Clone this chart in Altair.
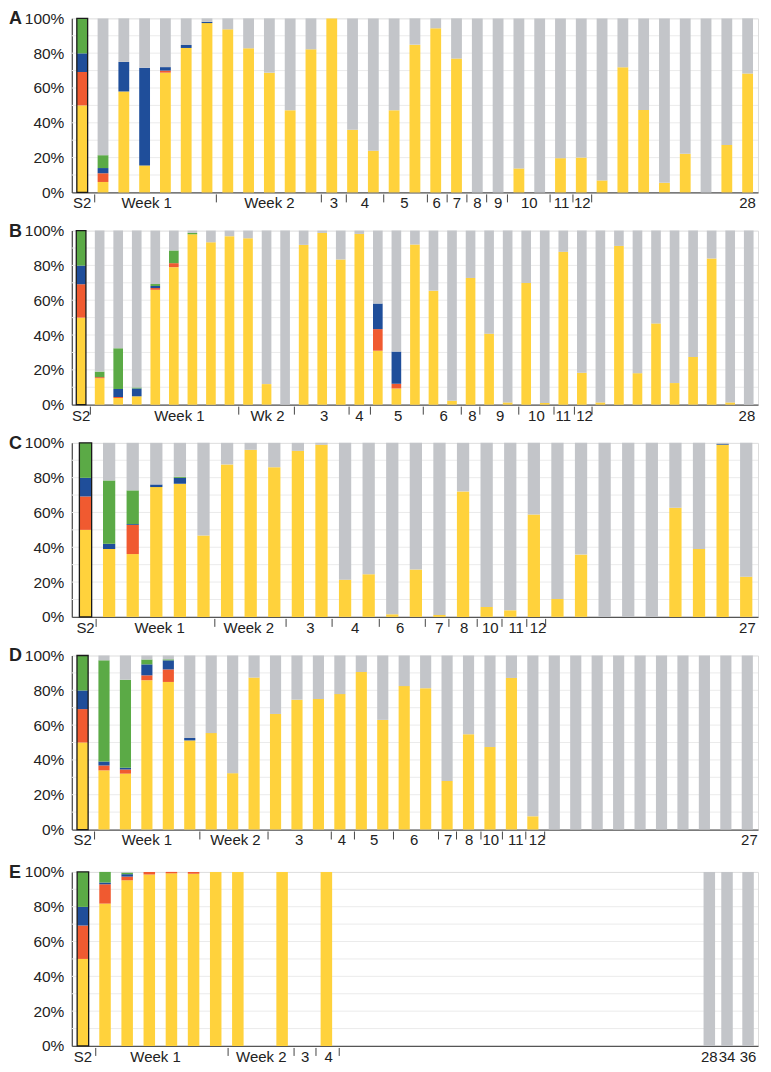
import altair as alt
import pandas as pd

FONT = "Liberation Sans"
CATS = ["yellow", "red", "blue", "green", "gray"]
CAT_COLORS = ["#FFD23C", "#F05A30", "#1F4E9A", "#5BAA46", "#C3C5C9"]

# S2 reference bar (yellow, red, blue, green)
S2 = [50, 19.2, 10.7, 20.1]

Y_TICKS = [0, 20, 40, 60, 80, 100]
GRID = [10, 20, 30, 40, 50, 60, 70, 80, 90]

# ---------------- Panel A ----------------
A_pos = list(range(1, 33))
A_yellow = [6, 58, 15.5, 68.8, 83, 97.3, 93.7, 82.8, 68.8, 47.2, 82.2, 100, 36, 24,
            47.2, 84.9, 94.3, 76.9, 0, 0, 13.8, 0, 19.7, 20, 6.9, 71.9, 47.4, 5.5,
            22.2, 0, 27.3, 68.3]
A_red = [5, 0, 0, 1.2] + [0] * 28
A_blue = [3, 17, 56.2, 2, 1.7, 0.7] + [0] * 26
A_green = [7.4] + [0] * 31
A_labels = ["S2", "Week 1", "Week 2", "3", "4", "5", "6", "7", "8", "9", "10", "11", "12", "28"]
A_label_pos = [0, 3.1, 9.0, 12.1, 13.6, 15.5, 17.05, 18.02, 19.0, 20.0, 21.5, 23.05, 24.05, 32.0]
A_seps = [0.6, 6.45, 11.5, 12.7, 14.5, 16.6, 17.55, 18.5, 19.45, 20.45, 22.5, 23.6, 24.5]

# ---------------- Panel B ----------------
B_pos = list(range(1, 37))
B_yellow = [15.2, 3.8, 4.8, 66, 79, 97.9, 93.3, 96.8, 95.6, 11.8,
            0, 91.8, 98.7, 83.4, 98.1, 31, 9.3, 92, 65.5, 2.3,
            72.8, 40.8, 1.3, 69.9, 1, 87.8, 18.3, 1.3, 91.2, 18.1,
            46.7, 12.4, 27.4, 84, 1.3, 0]
B_red = [0.6, 0.6, 0, 1, 2.3] + [0] * 10 + [12.4, 2.7] + [0] * 19
B_blue = [0, 4.6, 4.5, 1.2, 0] + [0] * 10 + [14.7, 18.5] + [0] * 19
B_green = [3.2, 23.4, 0.6, 1.1, 7.3, 0.8] + [0] * 30
B_labels = ["S2", "Week 1", "Wk 2", "3", "4", "5", "6", "8", "9", "10", "11", "12", "28"]
B_label_pos = [0, 5.3, 10.05, 13.1, 15.0, 17.1, 19.55, 21.1, 22.6, 24.55, 26.0, 27.15, 35.9]
B_seps = [0.5, 8.5, 11.5, 14.45, 15.6, 18.45, 20.5, 21.5, 23.6, 25.5, 26.6, 27.55]

# ---------------- Panel C ----------------
C_pos = list(range(1, 29))
C_yellow = [39, 36.1, 74.6, 76.5, 46.7, 87.6, 96, 86, 95.4, 98.9,
            21.4, 24.5, 1.5, 27.2, 1.1, 72.1, 5.7, 3.8, 58.9, 10.3,
            35.8, 0, 0, 0, 62.7, 39, 98.9, 23.1]
C_red = [0, 16.7] + [0] * 26
C_blue = [3, 0.5, 1.5, 3.4] + [0] * 22 + [0.4, 0]
C_green = [36.4, 19.4, 0, 0.6] + [0] * 24
C_labels = ["S2", "Week 1", "Week 2", "3", "4", "6", "7", "8", "10", "11", "12", "27"]
C_label_pos = [0, 3.14, 6.92, 9.53, 11.43, 13.33, 15.0, 16.05, 17.15, 18.25, 19.18, 28.05]
C_seps = [0.45, 5.48, 8.5, 10.45, 12.45, 14.4, 15.4, 16.6, 17.65, 18.7, 19.5]

# ---------------- Panel D ----------------
D_pos = list(range(1, 32))
D_yellow = [34, 32.1, 85.8, 84.8, 51.2, 55.4, 32.4, 87.3, 66.4, 74.6,
            75, 77.8, 90.5, 63, 82.4, 81.2, 27.9, 54.8, 47.4, 87.1,
            7.6] + [0] * 10
D_red = [2.8, 2.4, 2.8, 7.2] + [0] * 27
D_blue = [2.3, 1, 6.3, 5.2, 1.4] + [0] * 26
D_green = [58.1, 50.6, 2.8, 0.6] + [0] * 27
D_labels = ["S2", "Week 1", "Week 2", "3", "4", "5", "6", "7", "8", "10", "11", "12", "27"]
D_label_pos = [0, 3.0, 7.13, 10.1, 12.1, 13.6, 15.47, 17.05, 18.03, 19.04, 20.2, 21.2, 31.1]
D_seps = [0.56, 5.47, 8.65, 11.6, 12.68, 14.5, 16.6, 17.44, 18.58, 19.58, 20.67, 21.55]

# ---------------- Panel E ----------------
E_pos = [1, 2, 3, 4, 5, 6, 7, 9, 11, 28.3, 29.1, 30.05]
E_yellow = [81.8, 95.2, 98.5, 99.2, 98.9, 100, 100, 100, 100, 0, 0, 0]
E_red = [11.1, 2.1, 1.5, 0.8, 1.1, 0, 0, 0, 0, 0, 0, 0]
E_blue = [1, 1.4, 0, 0, 0, 0, 0, 0, 0, 0, 0, 0]
E_green = [6.1, 0.9, 0, 0, 0, 0, 0, 0, 0, 0, 0, 0]
E_labels = ["S2", "Week 1", "Week 2", "3", "4", "28", "34", "36"]
E_label_pos = [0, 3.28, 8.06, 10.04, 11.1, 28.3, 29.1, 30.05]
E_seps = [0.58, 6.56, 9.54, 10.53, 11.58]

W = 688
H = 174.5
HALF = 0.26


def x_enc(field, domain):
    return alt.X(
        f"{field}:Q",
        scale=alt.Scale(domain=domain, nice=False, zero=False),
        axis=alt.Axis(labels=False, ticks=False, grid=False, domainColor="#555555",
                      domainWidth=1.3, title=None),
    )


def y_enc(field):
    return alt.Y(
        f"{field}:Q",
        scale=alt.Scale(domain=[0, 100], nice=False),
        axis=alt.Axis(values=Y_TICKS, labelExpr="datum.value + '%'", grid=False,
                      ticks=False, domainColor="#555555", domainWidth=1.3,
                      labelFontSize=15.5, labelFont=FONT, labelColor="#222222",
                      labelPadding=8, title=None),
    )


def panel(letter, pos, yellow, red, blue, green, domain, labels, label_pos, seps):
    rows = []
    all_pos = [0] + pos
    cols = [[S2[0]] + yellow, [S2[1]] + red, [S2[2]] + blue, [S2[3]] + green]
    for i, p in enumerate(all_pos):
        vals = [c[i] for c in cols]
        gray = max(0.0, 100 - sum(vals))
        for k, v in enumerate(vals + [gray]):
            if v > 0:
                rows.append({"pos": p, "cat": CATS[k], "value": v, "order": k})
    df = pd.DataFrame(rows)

    grid = (
        alt.Chart(pd.DataFrame({"g": GRID}))
        .mark_rule(color="#ebebeb", strokeWidth=1)
        .encode(y=y_enc("g"))
    )

    bars = (
        alt.Chart(df)
        .transform_stack(stack="value", as_=["y0", "y1"], groupby=["pos"],
                         sort=[alt.SortField("order", order="ascending")])
        .transform_calculate(x0=f"datum.pos - {HALF}", x1=f"datum.pos + {HALF}")
        .mark_bar()
        .encode(
            x=x_enc("x0", domain),
            x2="x1:Q",
            y=y_enc("y0"),
            y2="y1:Q",
            color=alt.Color("cat:N", scale=alt.Scale(domain=CATS, range=CAT_COLORS), legend=None),
        )
    )

    s2 = (
        alt.Chart(pd.DataFrame({"pos": [0], "lo": [0], "hi": [100]}))
        .transform_calculate(x0=f"datum.pos - {HALF}", x1=f"datum.pos + {HALF}")
        .mark_bar(fillOpacity=0, stroke="#1a1a1a", strokeWidth=1.3)
        .encode(x=x_enc("x0", domain), x2="x1:Q", y=y_enc("lo"), y2="hi:Q")
    )

    lab = (
        alt.Chart(pd.DataFrame({"pos": label_pos, "text": labels}))
        .mark_text(font=FONT, fontSize=15, color="#222222", align="center", baseline="middle")
        .encode(x=x_enc("pos", domain), y=alt.value(H + 11), text="text:N")
    )

    sep = (
        alt.Chart(pd.DataFrame({"pos": seps}))
        .mark_rule(color="#444444", strokeWidth=1)
        .encode(x=x_enc("pos", domain), y=alt.value(H + 2), y2=alt.value(H + 10))
    )

    let = (
        alt.Chart(pd.DataFrame({"t": [letter]}))
        .mark_text(font=FONT, fontSize=18, fontWeight="bold", color="#222222",
                   align="left", baseline="middle")
        .encode(x=alt.value(-63), y=alt.value(1), text="t:N")
    )

    return alt.layer(grid, bars, s2, lab, sep, let).properties(width=W, height=H)


pA = panel("A", A_pos, A_yellow, A_red, A_blue, A_green, [-0.5, 32.5], A_labels, A_label_pos, A_seps)
pB = panel("B", B_pos, B_yellow, B_red, B_blue, B_green, [-0.5, 36.5], B_labels, B_label_pos, B_seps)
pC = panel("C", C_pos, C_yellow, C_red, C_blue, C_green, [-0.58, 28.5], C_labels, C_label_pos, C_seps)
pD = panel("D", D_pos, D_yellow, D_red, D_blue, D_green, [-0.5, 31.5], D_labels, D_label_pos, D_seps)
pE = panel("E", E_pos, E_yellow, E_red, E_blue, E_green, [-0.5, 30.5], E_labels, E_label_pos, E_seps)

top = alt.vconcat(pA, pB, pC, spacing=9.8).resolve_scale(x="independent", y="independent")
bottom = alt.vconcat(pD, pE, spacing=14).resolve_scale(x="independent", y="independent")

chart = (
    alt.vconcat(top, bottom, spacing=9.8)
    .resolve_scale(x="independent", y="independent", color="shared")
    .properties(padding={"left": 0, "top": 0, "right": 4, "bottom": 0})
    .configure_view(stroke="#d8d8d8", strokeWidth=1)
    .configure(background="white")
)

chart.save("out.html", embed_options={"renderer": "svg", "actions": False})
